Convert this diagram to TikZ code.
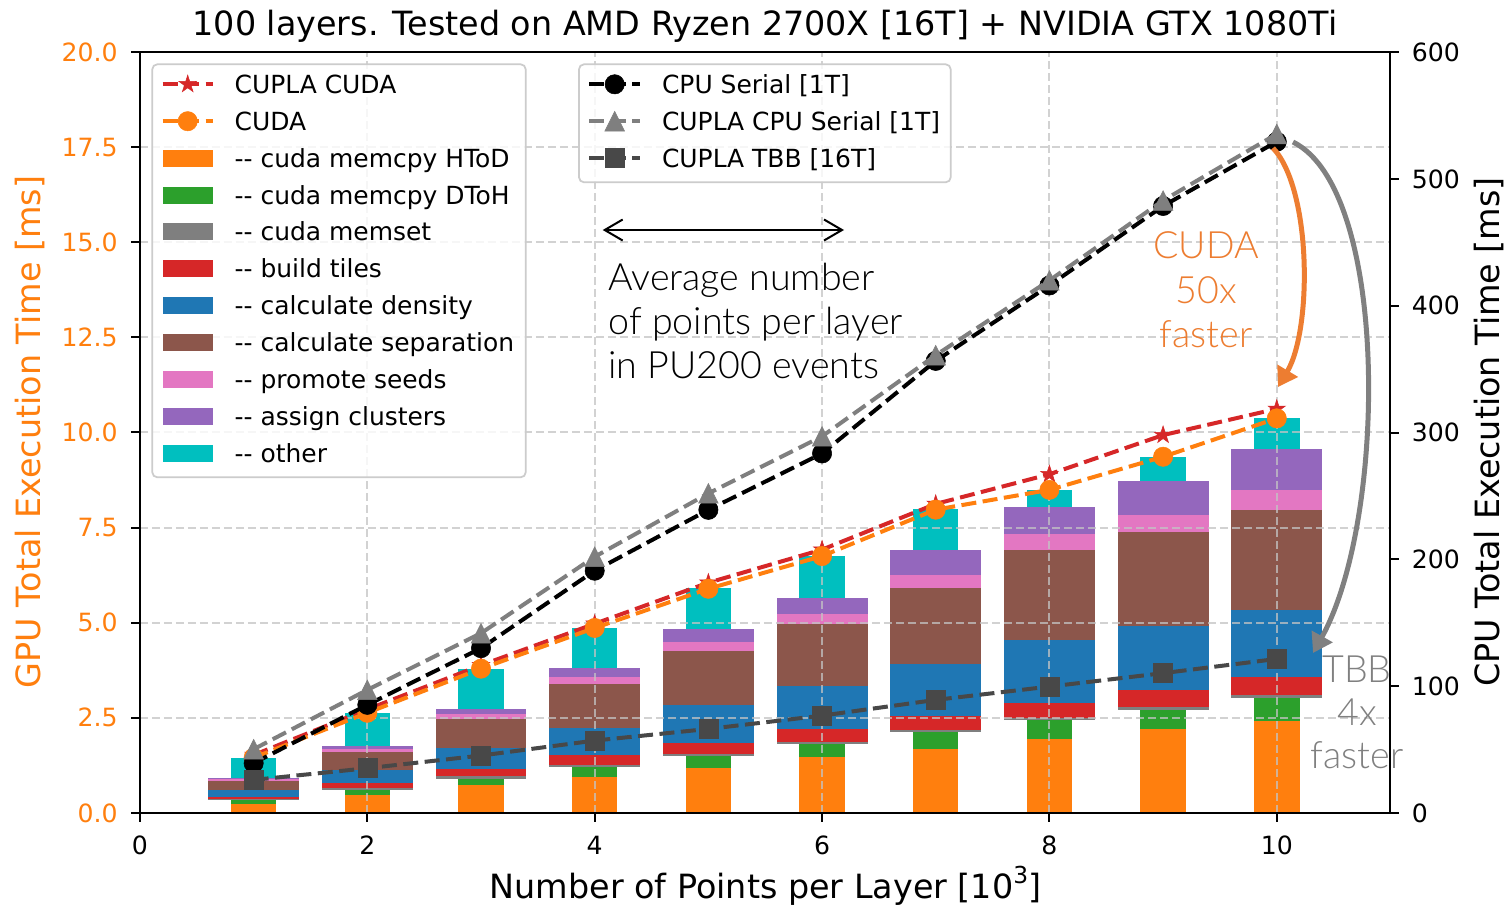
\documentclass[tikz,border=0pt]{standalone}
\usepackage{fontspec}
\newfontfamily\dv{DejaVu Sans}
\IfFontExistsTF{Lato Light}{\newfontfamily\ann{Lato Light}}{\newfontfamily\ann{Lato}}
\usetikzlibrary{arrows.meta,plotmarks}
\definecolor{cOr}{HTML}{FF7F0E}
\definecolor{cGr}{HTML}{2CA02C}
\definecolor{cGy}{HTML}{7F7F7F}
\definecolor{cRd}{HTML}{D62728}
\definecolor{cBl}{HTML}{1F77B4}
\definecolor{cBr}{HTML}{8C564B}
\definecolor{cPk}{HTML}{E377C2}
\definecolor{cPu}{HTML}{9467BD}
\definecolor{cCy}{HTML}{00BFBF}
\definecolor{cTbb}{HTML}{484848}
\definecolor{annOr}{HTML}{ED7D31}
\definecolor{annGy}{HTML}{808080}
\definecolor{gridc}{HTML}{C4C4C4}
\definecolor{legedge}{HTML}{CCCCCC}
\pgfdeclareplotmark{fstar}{%
  \pgfpathmoveto{\pgfpointpolar{90}{\pgfplotmarksize}}%
  \pgfpathlineto{\pgfpointpolar{126}{0.382\pgfplotmarksize}}%
  \pgfpathlineto{\pgfpointpolar{162}{\pgfplotmarksize}}%
  \pgfpathlineto{\pgfpointpolar{198}{0.382\pgfplotmarksize}}%
  \pgfpathlineto{\pgfpointpolar{234}{\pgfplotmarksize}}%
  \pgfpathlineto{\pgfpointpolar{270}{0.382\pgfplotmarksize}}%
  \pgfpathlineto{\pgfpointpolar{306}{\pgfplotmarksize}}%
  \pgfpathlineto{\pgfpointpolar{342}{0.382\pgfplotmarksize}}%
  \pgfpathlineto{\pgfpointpolar{18}{\pgfplotmarksize}}%
  \pgfpathlineto{\pgfpointpolar{54}{0.382\pgfplotmarksize}}%
  \pgfpathclose\pgfusepathqfillstroke}
\pgfdeclareplotmark{mtri}{%
  \pgfpathmoveto{\pgfqpoint{0pt}{\pgfplotmarksize}}%
  \pgfpathlineto{\pgfqpoint{-\pgfplotmarksize}{-\pgfplotmarksize}}%
  \pgfpathlineto{\pgfqpoint{\pgfplotmarksize}{-\pgfplotmarksize}}%
  \pgfpathclose\pgfusepathqfillstroke}
\pgfdeclareplotmark{msq}{%
  \pgfpathrectanglecorners{\pgfqpoint{-\pgfplotmarksize}{-\pgfplotmarksize}}{\pgfqpoint{\pgfplotmarksize}{\pgfplotmarksize}}%
  \pgfusepathqfillstroke}
\tikzset{
  ticklab/.style={font=\dv\fontsize{14.3}{16}\selectfont, inner sep=0pt},
  leglab/.style={font=\dv\fontsize{14.2}{16}\selectfont, inner sep=0pt, anchor=base west},
  biglab/.style={font=\dv\fontsize{19}{22}\selectfont, inner sep=0pt},
  annlab/.style={font=\ann\fontsize{21.4}{25}\selectfont, inner sep=0pt},
  gridline/.style={draw=gridc, draw opacity=0.75, line width=0.04cm, dash pattern=on 0.16cm off 0.08cm},
  dline/.style={line width=0.08cm, dash pattern=on 0.3cm off 0.13cm},
  tickmark/.style={line width=0.04cm},
  legbox/.style={draw=legedge, line width=0.035cm, fill=white, fill opacity=0.8, rounded corners=0.1cm},
  mkstar/.style={mark=fstar, mark size=5.2pt, mark options={solid, fill=cRd, draw=cRd, line width=0.3pt}},
  mkcircO/.style={mark=*, mark size=5.5pt, mark options={solid, fill=cOr, draw=cOr, line width=0.3pt}},
  mkcircK/.style={mark=*, mark size=5.5pt, mark options={solid, fill=black, draw=black, line width=0.3pt}},
  mktriG/.style={mark=mtri, mark size=5.6pt, mark options={solid, fill=cGy, draw=cGy, line width=0.3pt}},
  mksqT/.style={mark=msq, mark size=5.4pt, mark options={solid, fill=cTbb, draw=cTbb, line width=0.3pt}},
  bigarrow/.style={line width=0.1cm, -{Triangle[length=0.38cm, width=0.46cm]}}
}
\begin{document}
\begin{tikzpicture}[x=0.02cm, y=-0.02cm, font=\dv]
\useasboundingbox (0,0) rectangle (1506,910);
\fill[white] (0,0) rectangle (1506,910);

% ---------- GPU data scope ----------
\begin{scope}[shift={(2.8cm,-16.26cm)}, x=2.274cm, y=0.761cm]
  % stacked bars
  \foreach \x/\o/\g/\m/\r/\b/\s/\p/\a/\c in {
    1/0.24/0.34/0.37/0.41/0.59/0.84/0.88/0.92/1.45,
    2/0.47/0.59/0.65/0.78/1.12/1.60/1.69/1.77/2.62,
    3/0.72/0.89/0.97/1.15/1.71/2.47/2.60/2.74/3.77,
    4/0.95/1.20/1.27/1.51/2.24/3.40/3.57/3.82/4.86,
    5/1.19/1.50/1.55/1.84/2.84/4.25/4.49/4.84/5.90,
    6/1.46/1.81/1.87/2.20/3.34/4.96/5.23/5.66/6.74,
    7/1.69/2.13/2.18/2.54/3.92/5.91/6.25/6.92/8.00,
    8/1.94/2.44/2.49/2.89/4.54/6.90/7.32/8.03/8.49,
    9/2.20/2.71/2.77/3.23/4.91/7.37/7.83/8.73/9.36,
    10/2.42/3.03/3.09/3.58/5.34/7.96/8.49/9.57/10.37}{
    \fill[cOr] (\x-0.2,0) rectangle (\x+0.2,\o);
    \fill[cGr] (\x-0.2,\o) rectangle (\x+0.2,\g);
    \fill[cGy] (\x-0.4,\g) rectangle (\x+0.4,\m);
    \fill[cRd] (\x-0.4,\m) rectangle (\x+0.4,\r);
    \fill[cBl] (\x-0.4,\r) rectangle (\x+0.4,\b);
    \fill[cBr] (\x-0.4,\b) rectangle (\x+0.4,\s);
    \fill[cPk] (\x-0.4,\s) rectangle (\x+0.4,\p);
    \fill[cPu] (\x-0.4,\p) rectangle (\x+0.4,\a);
    \fill[cCy] (\x-0.2,\a) rectangle (\x+0.2,\c);
  }
  % grid
  \foreach \gx in {2,4,6,8,10} \draw[gridline] (\gx,0) -- (\gx,20);
  \foreach \gy in {2.5,5,7.5,10,12.5,15,17.5} \draw[gridline] (0,\gy) -- (11,\gy);
  % GPU lines
  \draw[dline, cRd] plot[mkstar] coordinates {(1,1.52) (2,2.72) (3,3.88) (4,4.97) (5,6.05) (6,6.92) (7,8.12) (8,8.90) (9,9.93) (10,10.62)};
  \draw[dline, cOr] plot[mkcircO] coordinates {(1,1.45) (2,2.63) (3,3.79) (4,4.86) (5,5.89) (6,6.75) (7,7.97) (8,8.49) (9,9.36) (10,10.37)};
  % frame, ticks, tick labels
  \draw[line width=0.04cm] (0,0) rectangle (11,20);
  \foreach \v/\t in {0/0.0, 2.5/2.5, 5/5.0, 7.5/7.5, 10/10.0, 12.5/12.5, 15/15.0, 17.5/17.5, 20/20.0}{
    \draw[tickmark] (0,\v) -- ++(-0.18cm,0);
    \node[ticklab, anchor=east, text=cOr] at ([xshift=-0.44cm]0,\v) {\t};
  }
  \foreach \v in {0,2,4,6,8,10}{
    \draw[tickmark] (\v,0) -- ++(0,-0.18cm);
    \node[ticklab, anchor=north] at ([yshift=-0.46cm]\v,0) {\v};
  }
\end{scope}

% ---------- CPU data scope ----------
\begin{scope}[shift={(2.8cm,-16.26cm)}, x=2.274cm, y=0.0253667cm]
  \draw[dline, black] plot[mkcircK] coordinates {(1,39.2) (2,85.2) (3,129.9) (4,191) (5,239) (6,283.5) (7,356.5) (8,416) (9,478.7) (10,529.4)};
  \draw[dline, cGy] plot[mktriG] coordinates {(1,50.2) (2,97) (3,141.7) (4,202) (5,252) (6,297) (7,361) (8,420) (9,483) (10,535.5)};
  \draw[dline, cTbb] plot[mksqT] coordinates {(1,26) (2,35.2) (3,45.2) (4,57) (5,66.2) (6,76.7) (7,89.1) (8,99.6) (9,110.2) (10,121.4)};
  \foreach \v in {0,100,200,300,400,500,600}{
    \draw[tickmark] (11,\v) -- ++(0.18cm,0);
    \node[ticklab, anchor=west] at ([xshift=0.42cm]11,\v) {\v};
  }
\end{scope}

% ---------- titles and axis labels ----------
\node[biglab, anchor=base] (title) at (765,35) {100 layers. Tested on AMD Ryzen 2700X [16T] + NVIDIA GTX 1080Ti};
\node[biglab, anchor=base] (xlab) at (765.5,898) {Number of Points per Layer [10\raisebox{0.42em}{\fontsize{13.3}{14}\selectfont 3}]};
\node[biglab, anchor=base, rotate=90, text=cOr] (ylabL) at (40,432) {GPU Total Execution Time [ms]};
\node[biglab, anchor=base, rotate=90] (ylabR) at (1499,432) {CPU Total Execution Time [ms]};

% ---------- legend 1 ----------
\draw[legbox] (152.3,64.3) rectangle (525.7,477.3);
\draw[dline, cRd] (162.7,84.3) -- (212.7,84.3);
\draw[cRd] plot[only marks, mkstar] coordinates {(187.7,84.3)};
\node[leglab] (l1) at (234.3,93.3) {CUPLA CUDA};
\draw[dline, cOr] (162.7,121.2) -- (212.7,121.2);
\draw[cOr] plot[only marks, mkcircO] coordinates {(187.7,121.2)};
\node[leglab] (l2) at (234.3,130.2) {CUDA};
\foreach \i/\col/\txt in {2/cOr/cuda memcpy HToD, 3/cGr/cuda memcpy DToH, 4/cGy/cuda memset, 5/cRd/build tiles, 6/cBl/calculate density, 7/cBr/calculate separation, 8/cPk/promote seeds, 9/cPu/assign clusters, 10/cCy/other}{
  \fill[\col] (162.7,84.3+36.9*\i-8.5) rectangle (212.7,84.3+36.9*\i+8.5);
  \node[leglab] (lp\i) at (234.3,93.3+36.9*\i) {-{}- \txt};
}

% ---------- legend 2 ----------
\draw[legbox] (579,64.3) rectangle (950.7,182.3);
\draw[dline, black] (589.3,84.3) -- (640,84.3);
\draw[black] plot[only marks, mkcircK] coordinates {(614.7,84.3)};
\node[leglab] (m1) at (661.7,93.3) {CPU Serial [1T]};
\draw[dline, cGy] (589.3,121.2) -- (640,121.2);
\draw[cGy] plot[only marks, mktriG] coordinates {(614.7,121.2)};
\node[leglab] (m2) at (661.7,130.2) {CUPLA CPU Serial [1T]};
\draw[dline, cTbb] (589.3,158.1) -- (640,158.1);
\draw[cTbb] plot[only marks, mksqT] coordinates {(614.7,158.1)};
\node[leglab] (m3) at (661.7,167.1) {CUPLA TBB [16T]};

% ---------- annotations ----------
\coordinate (dl) at (602.7,230);
\coordinate (dr) at (844,230);
\draw[line width=0.04cm, {Straight Barb[length=0.36cm, width=0.42cm]}-{Straight Barb[length=0.36cm, width=0.42cm]}] (dl) -- (dr);
\node[annlab, anchor=base west] (a1) at (608,290) {Average number};
\node[annlab, anchor=base west] (a2) at (608,334) {of points per layer};
\node[annlab, anchor=base west] (a3) at (608,378) {in PU200 events};

\node[annlab, anchor=base, text=annOr] (c1) at (1206,258) {CUDA};
\node[annlab, anchor=base, text=annOr] (c2) at (1206,303) {50x};
\node[annlab, anchor=base, text=annOr] (c3) at (1206,347) {faster};
\coordinate (oa) at (1273,148);
\coordinate (ob) at (1278,387);
\draw[bigarrow, annOr] (oa) .. controls (1312,190) and (1312,330) .. (ob);

\node[annlab, anchor=base, text=annGy] (t1) at (1357,682) {TBB};
\node[annlab, anchor=base, text=annGy] (t2) at (1357,725) {4x};
\node[annlab, anchor=base, text=annGy] (t3) at (1357,768) {faster};
\coordinate (ga) at (1293,142);
\coordinate (gb) at (1313,653);
\draw[bigarrow, annGy] (ga) .. controls (1390,190) and (1387,520) .. (gb);
\end{tikzpicture}
\end{document}
